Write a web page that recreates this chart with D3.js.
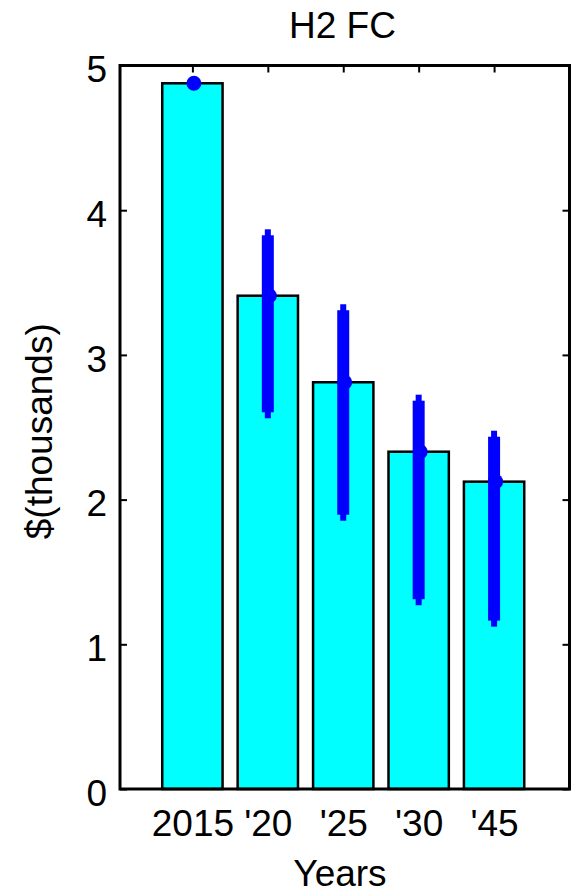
<!DOCTYPE html>
<html>
<head>
<meta charset="utf-8">
<script src="https://cdn.jsdelivr.net/npm/d3@7/dist/d3.min.js"></script>
<style>
  html, body { margin: 0; padding: 0; background: #fff; }
  svg { display: block; font-family: "Liberation Sans", Arial, sans-serif; }
</style>
</head>
<body>
<svg id="chart" width="576" height="892"></svg>
<script>
// Fuel-cell cost by year (thousands of dollars)
const categories = ["2015", "'20", "'25", "'30", "'45"];
const meanValues = [4.877, 3.409, 2.811, 2.331, 2.124];
// Full extent of the uncertainty range per year (null = no range)
const rangeLow  = [null, 2.562, 1.854, 1.270, 1.122];
const rangeHigh = [null, 3.868, 3.350, 2.725, 2.476];
const yTicks = [0, 1, 2, 3, 4, 5];

const svg = d3.select("#chart");
const plotLeft = 120, plotRight = 569.5, plotTop = 65.5, plotBottom = 789;

const x = d3.scaleLinear().domain([0.04, 6]).range([plotLeft, plotRight]);
const y = d3.scaleLinear().domain([0, 5]).range([plotBottom, plotTop]);
const pos = (i) => x(i + 1);
const barW = x(0.8) - x(0);

const font = 37;

// Tick marks (inward, drawn beneath the data)
const gTicks = svg.append("g");
const yAxisL = d3.axisLeft(y).tickValues(yTicks).tickSize(-7).tickPadding(13).tickFormat(d3.format("d"));
const yAxisR = d3.axisRight(y).tickValues(yTicks).tickSize(-7).tickFormat("");
const xAxisB = d3.axisBottom(x).tickValues(categories.map((_, i) => i + 1)).tickSize(-7).tickPadding(21)
  .tickFormat((d) => categories[d - 1]);
const xAxisT = d3.axisTop(x).tickValues(categories.map((_, i) => i + 1)).tickSize(-7).tickFormat("");

function styleAxis(g) {
  g.select(".domain").remove();
  g.selectAll(".tick line").attr("stroke", "#000").attr("stroke-width", 2);
  g.selectAll(".tick text").attr("fill", "#000").style("font-size", font + "px")
    .style("font-family", "'Liberation Sans', Arial, sans-serif");
}

gTicks.append("g").attr("transform", `translate(${plotLeft},0)`).call(yAxisL).call(styleAxis)
  .selectAll(".tick text").attr("dy", "0.44em");
gTicks.append("g").attr("transform", `translate(${plotRight},0)`).call(yAxisR).call(styleAxis);
gTicks.append("g").attr("transform", `translate(0,${plotBottom})`).call(xAxisB).call(styleAxis);
gTicks.append("g").attr("transform", `translate(0,${plotTop})`).call(xAxisT).call(styleAxis);

// Bars
svg.append("g").selectAll("rect")
  .data(meanValues)
  .join("rect")
  .attr("x", (d, i) => pos(i) - barW / 2)
  .attr("width", barW)
  .attr("y", (d) => y(d))
  .attr("height", (d) => y(0) - y(d))
  .attr("fill", "#00ffff")
  .attr("stroke", "#000")
  .attr("stroke-width", 2.5);

// Uncertainty ranges: thin stub over the full extent, thick band inset from the ends
const ranges = meanValues.map((m, i) => ({ i, lo: rangeLow[i], hi: rangeHigh[i] }))
  .filter((r) => r.lo !== null);
const gErr = svg.append("g");
gErr.selectAll("rect.stub")
  .data(ranges)
  .join("rect")
  .attr("class", "stub")
  .attr("x", (r) => pos(r.i) - 3)
  .attr("width", 6)
  .attr("y", (r) => y(r.hi))
  .attr("height", (r) => y(r.lo) - y(r.hi))
  .attr("fill", "#0000ff");
gErr.selectAll("rect.band")
  .data(ranges)
  .join("rect")
  .attr("class", "band")
  .attr("x", (r) => pos(r.i) - 6)
  .attr("width", 12)
  .attr("y", (r) => y(r.hi) + 6)
  .attr("height", (r) => y(r.lo) - y(r.hi) - 12)
  .attr("fill", "#0000ff");

// Mean markers
svg.append("g").selectAll("circle")
  .data(meanValues)
  .join("circle")
  .attr("cx", (d, i) => pos(i) + 1.5)
  .attr("cy", (d) => y(d))
  .attr("r", 7.5)
  .attr("fill", "#0000ff");

// Axes box
svg.append("rect")
  .attr("x", plotLeft).attr("y", plotTop)
  .attr("width", plotRight - plotLeft).attr("height", plotBottom - plotTop)
  .attr("fill", "none").attr("stroke", "#000").attr("stroke-width", 3);

// Title and axis labels
svg.append("text")
  .attr("x", 342.5).attr("y", 38)
  .attr("text-anchor", "middle")
  .style("font-size", font + "px")
  .text("H2 FC");

svg.append("text")
  .attr("x", 340).attr("y", 886)
  .attr("text-anchor", "middle")
  .style("font-size", font + "px")
  .text("Years");

svg.append("text")
  .attr("transform", `translate(52,${(plotTop + plotBottom) / 2 + 4}) rotate(-90)`)
  .attr("text-anchor", "middle")
  .style("font-size", font + "px")
  .text("$(thousands)");
</script>
</body>
</html>
